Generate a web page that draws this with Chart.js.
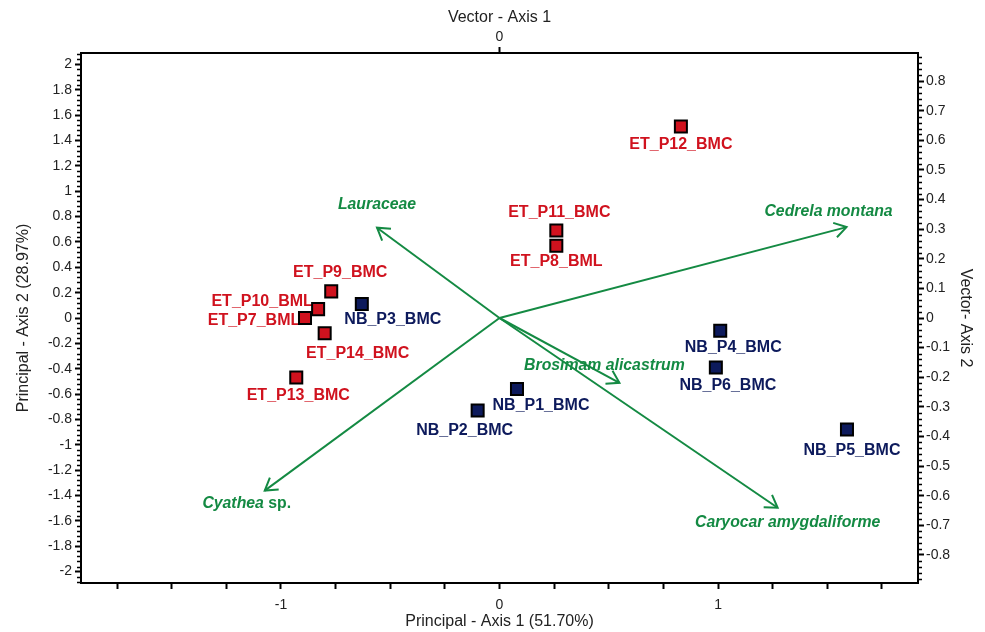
<!DOCTYPE html>
<html>
<head>
<meta charset="utf-8">
<script src="https://cdn.jsdelivr.net/npm/chart.js@4.4.1/dist/chart.umd.min.js"></script>
<style>
  html, body { margin: 0; padding: 0; background: #fff; }
</style>
</head>
<body>
<canvas id="graph" width="985" height="632"></canvas>
<script>
// sample scores on the principal axes
const etNames = ["ET_P12_BMC", "ET_P11_BMC", "ET_P8_BML", "ET_P9_BMC", "ET_P10_BML", "ET_P7_BML", "ET_P14_BMC", "ET_P13_BMC"];
const etX = [0.83, 0.26, 0.26, -0.77, -0.83, -0.89, -0.80, -0.93];
const etY = [1.51, 0.69, 0.57, 0.21, 0.07, 0.00, -0.12, -0.47];

const nbNames = ["NB_P3_BMC", "NB_P1_BMC", "NB_P2_BMC", "NB_P4_BMC", "NB_P6_BMC", "NB_P5_BMC"];
const nbX = [-0.63, 0.08, -0.10, 1.01, 0.99, 1.59];
const nbY = [0.11, -0.56, -0.73, -0.10, -0.39, -0.88];

// species vectors on the vector axes
const vecNames = ["Lauraceae", "Cedrela montana", "Brosimam alicastrum", "Caryocar amygdaliforme", "Cyathea sp."];
const vecX = [-0.24, 0.68, 0.235, 0.545, -0.46];
const vecY = [0.305, 0.307, -0.219, -0.641, -0.583];

// tick labels
const xTicks = [-1.75, -1.5, -1.25, -1, -0.75, -0.5, -0.25, 0, 0.25, 0.5, 0.75, 1, 1.25, 1.5, 1.75];
const xTickLabels = ["", "", "", "-1", "", "", "", "0", "", "", "", "1", "", "", ""];
const yTickLabels = ["-2", "-1.8", "-1.6", "-1.4", "-1.2", "-1", "-0.8", "-0.6", "-0.4", "-0.2", "0",
  "0.2", "0.4", "0.6", "0.8", "1", "1.2", "1.4", "1.6", "1.8", "2"];
const y2TickLabels = ["-0.8", "-0.7", "-0.6", "-0.5", "-0.4", "-0.3", "-0.2", "-0.1", "0",
  "0.1", "0.2", "0.3", "0.4", "0.5", "0.6", "0.7", "0.8"];
const x2TickLabels = ["0"];

// label placement (pixel offsets from the marker / arrow tip)
const etLabelOffset = [[0, 18], [3, -18], [0, 16], [9, -19], [-56, -8], [-51, 3], [33, 20], [2, 18]];
const nbLabelOffset = [[31, 16], [24, 17], [-13, 20], [13, 17], [12, 18], [5, 21]];
const vecLabelOffset = [[0, -23], [-18, -15], [-15, -17], [10, 15], [-18, 13]];

const RED = "#d0121e";
const NAVY = "#0d1a5c";
const GREEN = "#148a43";
const FONT = "'Liberation Sans', Arial, sans-serif";

const axisFont = { family: FONT, size: 14 };
const titleFont = { family: FONT, size: 16 };

//labels under the markers
const labelPlugin = {
  id: "pointLabels",
  beforeDatasetsDraw(chart) {
    const ctx = chart.ctx;
    ctx.save();
    ctx.textAlign = "center";
    ctx.textBaseline = "middle";
    ctx.font = "bold 16px " + FONT;
    const groups = [
      { idx: 0, names: etNames, off: etLabelOffset, color: RED },
      { idx: 1, names: nbNames, off: nbLabelOffset, color: NAVY },
    ];
    groups.forEach((g) => {
      const meta = chart.getDatasetMeta(g.idx);
      meta.data.forEach((pt, i) => {
        ctx.fillStyle = g.color;
        ctx.fillText(g.names[i], pt.x + g.off[i][0], pt.y + g.off[i][1]);
      });
    });
    ctx.restore();
  },
  afterDatasetsDraw(chart) {
    const ctx = chart.ctx;
    ctx.save();
    ctx.strokeStyle = GREEN;
    ctx.fillStyle = GREEN;
    ctx.lineWidth = 2;
    ctx.textBaseline = "middle";
    vecNames.forEach((name, i) => {
      const meta = chart.getDatasetMeta(2 + i);
      const a = meta.data[0];
      const b = meta.data[1];
      // arrow head
      const ang = Math.atan2(b.y - a.y, b.x - a.x);
      const len = 14;
      const spread = 0.56;
      ctx.beginPath();
      ctx.moveTo(b.x - len * Math.cos(ang - spread), b.y - len * Math.sin(ang - spread));
      ctx.lineTo(b.x, b.y);
      ctx.lineTo(b.x - len * Math.cos(ang + spread), b.y - len * Math.sin(ang + spread));
      ctx.stroke();
      // label
      const cx = b.x + vecLabelOffset[i][0];
      const cy = b.y + vecLabelOffset[i][1];
      const italic = "italic bold 15.8px " + FONT;
      const upright = "bold 15.8px " + FONT;
      if (name.endsWith(" sp.")) {
        const genus = name.slice(0, -4);
        ctx.font = italic;
        const w1 = ctx.measureText(genus).width;
        ctx.font = upright;
        const w2 = ctx.measureText(" sp.").width;
        let x0 = cx - (w1 + w2) / 2;
        ctx.textAlign = "left";
        ctx.font = italic;
        ctx.fillText(genus, x0, cy);
        ctx.font = upright;
        ctx.fillText(" sp.", x0 + w1, cy);
      } else {
        ctx.textAlign = "center";
        ctx.font = italic;
        ctx.fillText(name, cx, cy);
      }
    });
    ctx.restore();
  },
};

// small ticks between the labelled ones
const minorTicks = {
  id: "minorTicks",
  afterDraw(chart) {
    const { ctx, chartArea, scales } = chart;
    ctx.save();
    ctx.strokeStyle = "#000";
    ctx.lineWidth = 1.5;
    ctx.beginPath();
    for (let i = -52; i <= 52; i++) {
      if (i % 5 === 0) continue;
      const py = Math.round(scales.y.getPixelForValue(i * 0.04)) + 0.5;
      ctx.moveTo(chartArea.left - 4, py);
      ctx.lineTo(chartArea.left, py);
    }
    for (let i = -44; i <= 44; i++) {
      if (i % 5 === 0) continue;
      const py = Math.round(scales.y2.getPixelForValue(i * 0.02)) + 0.5;
      ctx.moveTo(chartArea.right, py);
      ctx.lineTo(chartArea.right + 4, py);
    }
    ctx.stroke();
    ctx.restore();
  },
};

const datasets = [
  {
    label: "ET",
    data: etX.map((x, i) => ({ x: x, y: etY[i] })),
    backgroundColor: RED,
    borderColor: "#000",
    borderWidth: 2,
    pointStyle: "rect",
    pointRadius: 8.5,
    pointHoverRadius: 8.5,
  },
  {
    label: "NB",
    data: nbX.map((x, i) => ({ x: x, y: nbY[i] })),
    backgroundColor: NAVY,
    borderColor: "#000",
    borderWidth: 2,
    pointStyle: "rect",
    pointRadius: 8.5,
    pointHoverRadius: 8.5,
  },
];
vecNames.forEach((name, i) => {
  datasets.push({
    label: name,
    data: [{ x: 0, y: 0 }, { x: vecX[i], y: vecY[i] }],
    xAxisID: "x2",
    yAxisID: "y2",
    showLine: true,
    borderColor: GREEN,
    borderWidth: 2,
    pointRadius: 0,
    pointHoverRadius: 0,
  });
});

function tickSet(values) {
  return (scale) => {
    scale.ticks = values.map((v) => ({ value: v }));
  };
}

new Chart(document.getElementById("graph"), {
  type: "scatter",
  data: { datasets: datasets },
  plugins: [labelPlugin, minorTicks],
  options: {
    responsive: false,
    animation: false,
    layout: { padding: 0 },
    plugins: {
      legend: { display: false },
      tooltip: { enabled: false },
    },
    scales: {
      x: {
        type: "linear",
        position: "bottom",
        min: -1.915,
        max: 1.915,
        afterBuildTicks: tickSet(xTicks),
        afterFit: (s) => { s.height = 49; },
        ticks: {
          autoSkip: false,
          maxRotation: 0,
          padding: 8,
          color: "#222",
          font: axisFont,
          callback: (v, i) => xTickLabels[i],
        },
        grid: { drawOnChartArea: false, tickLength: 6, tickColor: "#000", tickWidth: 2 },
        border: { color: "#000", width: 2 },
        title: { display: true, text: "Principal - Axis 1 (51.70%)", color: "#222", font: titleFont, padding: { top: 0, bottom: 1 } },
      },
      y: {
        type: "linear",
        position: "left",
        min: -2.09,
        max: 2.09,
        afterBuildTicks: tickSet(yTickLabels.map(Number)),
        afterFit: (s) => { s.width = 81; },
        ticks: {
          autoSkip: false,
          padding: 3,
          color: "#222",
          font: axisFont,
          callback: (v, i) => yTickLabels[i],
        },
        grid: { drawOnChartArea: false, tickLength: 6, tickColor: "#000", tickWidth: 2 },
        border: { color: "#000", width: 2 },
        title: { display: true, text: "Principal - Axis 2 (28.97%)", color: "#222", font: titleFont, padding: { top: 14, bottom: 0 } },
      },
      x2: {
        type: "linear",
        position: "top",
        min: -0.82,
        max: 0.82,
        afterBuildTicks: tickSet(x2TickLabels.map(Number)),
        afterFit: (s) => { s.height = 53; },
        ticks: {
          autoSkip: false,
          maxRotation: 0,
          padding: 1,
          color: "#222",
          font: axisFont,
          callback: (v, i) => x2TickLabels[i],
        },
        grid: { drawOnChartArea: false, tickLength: 6, tickColor: "#000", tickWidth: 2 },
        border: { color: "#000", width: 2 },
        title: { display: true, text: "Vector - Axis 1", color: "#222", font: titleFont, padding: { top: 8, bottom: 0 } },
      },
      y2: {
        type: "linear",
        position: "right",
        min: -0.895,
        max: 0.895,
        afterBuildTicks: tickSet(y2TickLabels.map(Number)),
        afterFit: (s) => { s.width = 67; },
        ticks: {
          autoSkip: false,
          padding: 2,
          color: "#222",
          font: axisFont,
          callback: (v, i) => y2TickLabels[i],
        },
        grid: { drawOnChartArea: false, tickLength: 6, tickColor: "#000", tickWidth: 2 },
        border: { color: "#000", width: 2 },
        title: { display: true, text: "Vector- Axis 2", color: "#222", font: titleFont, padding: { top: 10, bottom: 0 } },
      },
    },
  },
});
</script>
</body>
</html>
